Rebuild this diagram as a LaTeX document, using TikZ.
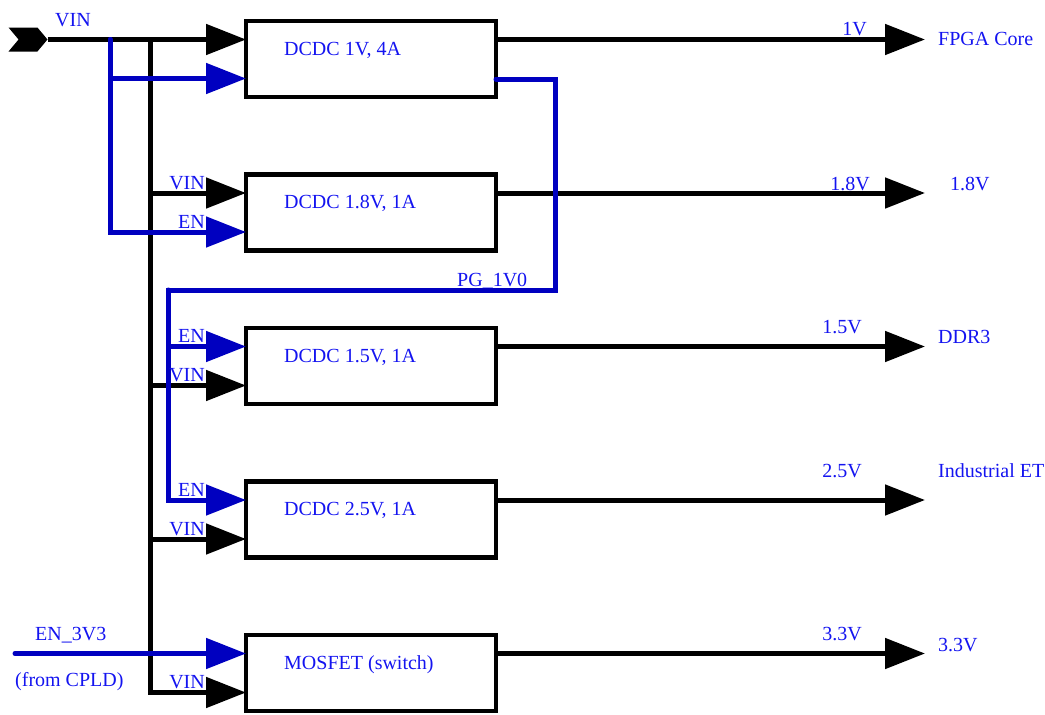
\documentclass[tikz,border=0pt]{standalone}
\usepackage{fontspec}
\setmainfont{Liberation Serif}
\usetikzlibrary{arrows.meta,positioning,shapes.symbols}
\definecolor{pwrblue}{RGB}{0,0,192}
\definecolor{lblblue}{RGB}{20,20,240}
\tikzset{
  conv/.style={draw=black,line width=4.5pt,minimum width=250pt,
               minimum height=76pt,outer sep=0pt,inner sep=0pt},
  wire/.style={line width=5pt,color=black},
  arr/.style={wire,-{Triangle[length=40pt,width=30pt]}},
  enwire/.style={line width=5pt,color=pwrblue,line cap=round},
  enarr/.style={enwire,-{Triangle[length=40pt,width=30pt]}},
  lbl/.style={font=\fontsize{20}{24}\selectfont,text=lblblue,inner sep=0pt},
  convlbl/.style={lbl,anchor=base west,xshift=38pt,yshift=-34pt},
  pinlbl/.style={lbl,anchor=base east,xshift=-41pt,yshift=4pt},
  port/.style={signal,signal to=east,signal from=west,fill=black,
               minimum width=39pt,minimum height=24pt,
               signal pointer angle=100,inner sep=0pt,outer sep=0pt},
}

\begin{document}
\begin{tikzpicture}[x=1pt,y=-1pt,node distance=77.5pt]
  \useasboundingbox (0,0) rectangle (1045,715);

  \node[conv](dc1v) at (371,59) {};
  \node[conv,below=of dc1v](dc18) {};
  \node[conv,below=of dc18](dc15) {};
  \node[conv,below=of dc15](dc25) {};
  \node[conv,below=of dc25](mosfet) {};
  \foreach \b in {dc1v,dc18,dc15,dc25,mosfet}{
    \coordinate (\b-hi)  at ([yshift=19.5pt]\b.west);
    \coordinate (\b-lo)  at ([yshift=-19.5pt]\b.west);
    \coordinate (\b-out) at ([yshift=19.5pt]\b.east);
    \coordinate (\b-end) at ([xshift=429pt]\b-out);
  }
  \node[convlbl](t1v)  at (dc1v.north west)   {DCDC 1V, 4A};
  \node[convlbl](t18)  at (dc18.north west)   {DCDC 1.8V, 1A};
  \node[convlbl](t15)  at (dc15.north west)   {DCDC 1.5V, 1A};
  \node[convlbl](t25)  at (dc25.north west)   {DCDC 2.5V, 1A};
  \node[convlbl](tmos) at (mosfet.north west) {MOSFET (switch)};

  % VIN bus
  \node[port](vin) at (28,39.5) {};
  \coordinate (vinbus) at (150,39.5);
  \coordinate (enbus)  at (110,39.5);
  \draw[arr](vin.east) -- (dc1v-hi);
  \draw[arr](vinbus) |- (dc18-hi);
  \draw[arr](vinbus) |- (dc15-lo);
  \draw[arr](vinbus) |- (dc25-lo);
  \draw[arr](vinbus) |- (mosfet-lo);
  \foreach \b in {dc1v,dc18,dc15,dc25,mosfet}
    \draw[arr](\b-out) -- (\b-end);

  % enables
  \coordinate (cpld)   at ([xshift=-231pt]mosfet-hi);
  \coordinate (pg)     at ([yshift=-20pt]dc1v.east);
  \coordinate (pgturn) at (555,290);
  \coordinate (pgbus)  at (168,290);
  \node[lbl,anchor=base west](pglbl) at (457,286.5) {PG\_1V0};
  \draw[enarr](enbus) |- (dc1v-lo);
  \draw[enarr](enbus) |- (dc18-lo);
  \draw[enarr](pg) -| (pgturn) -- (pgbus) |- (dc25-hi);
  \draw[enarr](pgbus) |- (dc15-hi);
  \draw[enarr](cpld) -- (mosfet-hi);

  \node[lbl,anchor=base west](vinlbl) at (55,26) {VIN};
  \node[pinlbl](p18v) at (dc18-hi)  {VIN};
  \node[pinlbl](p18e) at (dc18-lo)  {EN};
  \node[pinlbl](p15e) at (dc15-hi)  {EN};
  \node[pinlbl](p15v) at (dc15-lo)  {VIN};
  \node[pinlbl](p25e) at (dc25-hi)  {EN};
  \node[pinlbl](p25v) at (dc25-lo)  {VIN};
  \node[pinlbl](pmsv) at (mosfet-lo){VIN};
  \node[lbl,anchor=base west](en3v3) at (35,640) {EN\_3V3};
  \node[lbl,anchor=base west](from)  at (15,686) {(from CPLD)};

  % rails
  \node[lbl,anchor=base east](v1)  at (867,35)  {1V};
  \node[lbl,anchor=base east](v18) at (870,190) {1.8V};
  \node[lbl,anchor=base east](v15) at (862,333) {1.5V};
  \node[lbl,anchor=base east](v25) at (862,477) {2.5V};
  \node[lbl,anchor=base east](v33) at (862,640) {3.3V};
  \node[lbl,anchor=base west](fpga) at (938,45)  {FPGA Core};
  \node[lbl,anchor=base west](r18)  at (950,190) {1.8V};
  \node[lbl,anchor=base west](ddr)  at (938,343) {DDR3};
  \node[lbl,anchor=base west](eth)  at (938,477) {Industrial ET};
  \node[lbl,anchor=base west](r33)  at (938,651) {3.3V};
\end{tikzpicture}
\end{document}
